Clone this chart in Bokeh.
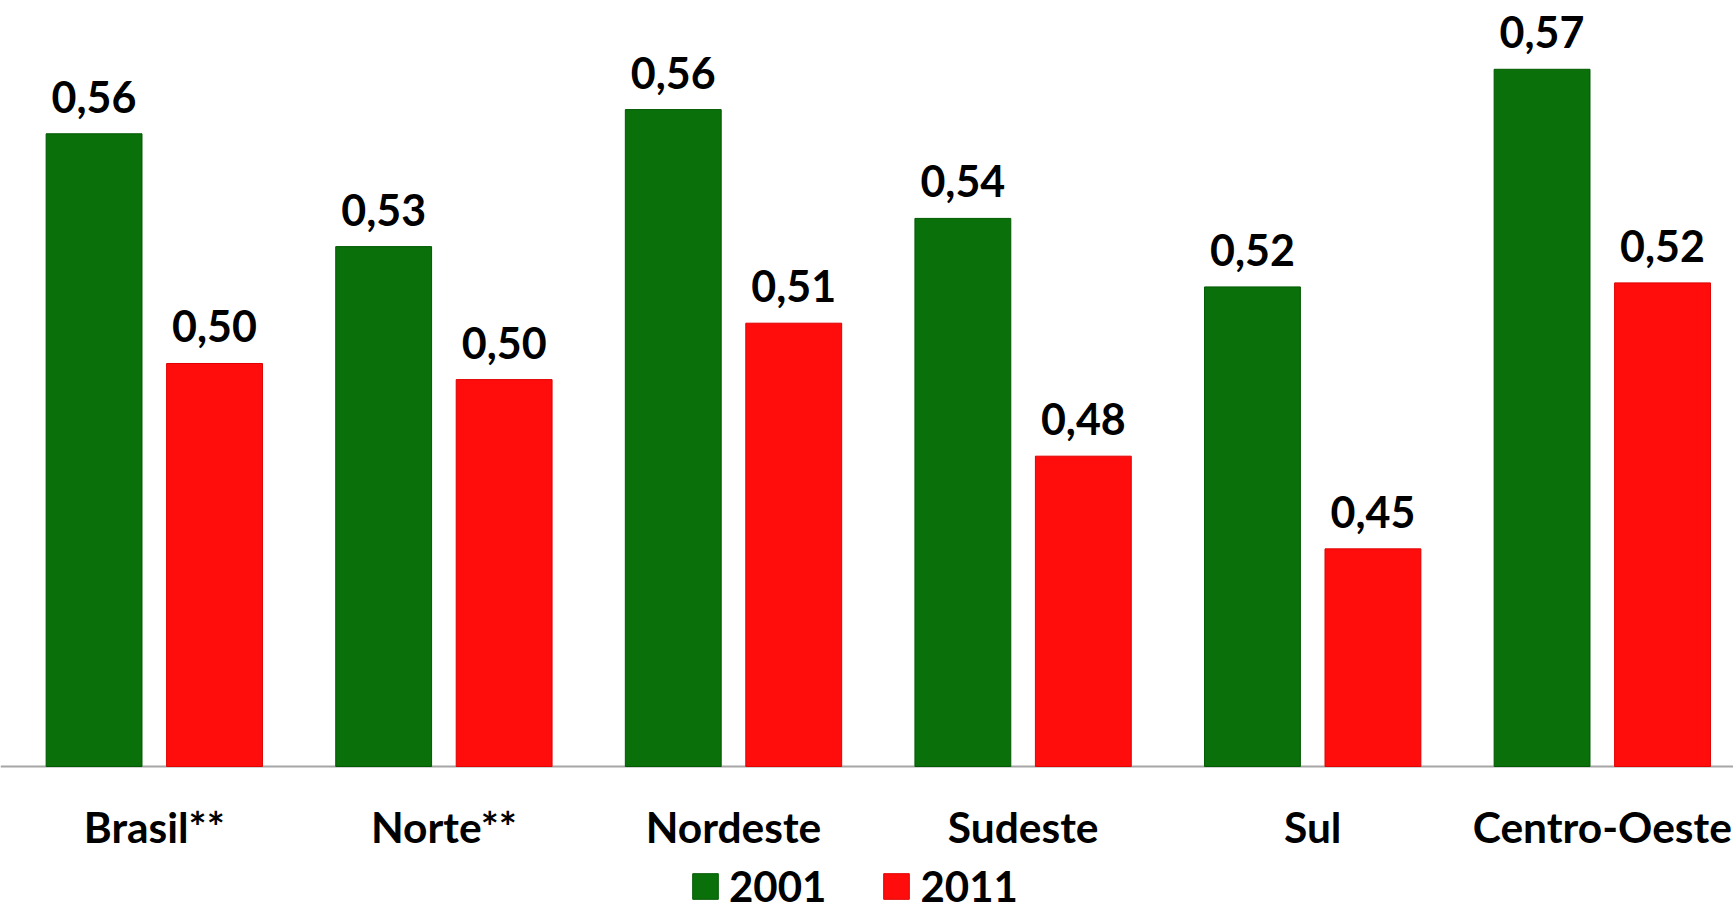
from bokeh.plotting import figure
from bokeh.models import Range1d, Legend, LegendItem, ColumnDataSource, Span
from bokeh.core.properties import value
from bokeh.embed import file_html
from bokeh.resources import INLINE

categories = ["Brasil**", "Norte**", "Nordeste", "Sudeste", "Sul", "Centro-Oeste"]
years = ["2001", "2011"]
gini_2001 = [0.557, 0.529, 0.563, 0.536, 0.519, 0.573]
gini_2011 = [0.500, 0.496, 0.510, 0.477, 0.454, 0.520]
base = 0.40

GREEN = "#0A700A"
RED = "#FF0D0D"
FONT = "Lato"

def fmt(v):
    return f"{v:.2f}".replace(".", ",")

centers = [i + 0.5 for i in range(len(categories))]
off = 0.208
bw = 0.331

src1 = ColumnDataSource(dict(x=[c - off for c in centers], top=gini_2001,
                             lab=[fmt(v) for v in gini_2001]))
src2 = ColumnDataSource(dict(x=[c + off for c in centers], top=gini_2011,
                             lab=[fmt(v) for v in gini_2011]))
cat_src = ColumnDataSource(dict(x=centers, y=[base] * len(categories), lab=categories))

p = figure(width=1733, height=911,
           x_range=Range1d(-0.03108, 5.95304), y_range=Range1d(0.36402, 0.59007),
           output_backend="svg", toolbar_location=None, min_border=0,
           x_axis_location=None, y_axis_location=None)
p.outline_line_color = None
p.xgrid.visible = False
p.ygrid.visible = False
p.background_fill_color = "white"
p.border_fill_color = "white"

p.add_layout(Span(location=base, dimension="width", line_color="#A6A6A6",
                  line_width=2, level="underlay"))

r1 = p.vbar(x="x", top="top", bottom=base, width=bw, source=src1,
            fill_color=GREEN, line_color="#005A00", line_width=1)
r2 = p.vbar(x="x", top="top", bottom=base, width=bw, source=src2,
            fill_color=RED, line_color="#E00000", line_width=1)

for s in (src1, src2):
    p.text(x="x", y="top", text="lab", source=s, text_align="center",
           text_baseline="alphabetic", y_offset=-37,
           text_font=value(FONT), text_font_style="bold",
           text_font_size="43px", text_color="black")

p.text(x="x", y="y", text="lab", source=cat_src, text_align="center",
       text_baseline="alphabetic", y_offset=60,
       text_font=value(FONT), text_font_style="bold",
       text_font_size="42.5px", text_color="black")

legend = Legend(items=[LegendItem(label=years[0], renderers=[r1]),
                       LegendItem(label=years[1], renderers=[r2])],
                orientation="horizontal", location=(689, 0),
                glyph_width=32, glyph_height=32, label_standoff=8, spacing=54,
                padding=0, margin=0, border_line_color=None,
                background_fill_alpha=0,
                label_text_font=FONT, label_text_font_style="bold",
                label_text_font_size="42px", label_text_color="black")
p.add_layout(legend, "center")

open("out.html", "w").write(file_html(p, INLINE))
